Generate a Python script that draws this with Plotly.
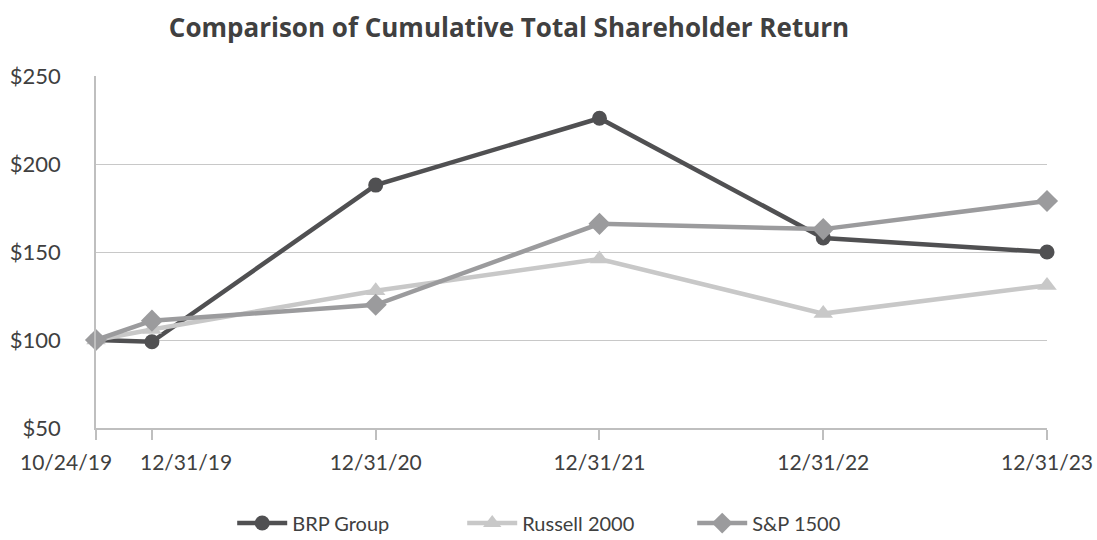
import plotly.graph_objects as go

# x positions follow the reference's spacing (years from first date, first interval drawn as a quarter)
x_pos = [0, 0.25, 1.25, 2.25, 3.25, 4.25]
tick_labels = ["10/24/19", "12/31/19", "12/31/20", "12/31/21", "12/31/22", "12/31/23"]
brp = [100, 99, 188, 226, 158, 150]
russell = [100, 106, 128, 146, 115, 131]
sp1500 = [100, 111, 120, 166, 163, 179]
y_ticks = [50, 100, 150, 200, 250]
y_labels = ["$50", "$100", "$150", "$200", "$250"]

FONT = "Lato"
TXT = "#404040"
series = [
    ("BRP Group", brp, "#505052", "circle", 15),
    ("Russell 2000", russell, "#c8c8c8", "triangle-up", 17),
    ("S&P 1500", sp1500, "#9b9b9d", "diamond", 17),
]

fig = go.Figure()
for name, vals, color, sym, size in series:
    fig.add_trace(go.Scatter(
        x=x_pos, y=vals, name=name, mode="lines+markers",
        line=dict(color=color, width=4.5),
        marker=dict(symbol=sym, size=size, color=color),
        cliponaxis=False,
    ))

# first two x labels are offset sideways (as in the reference) so they do not collide
shown_ticktext = ["", ""] + tick_labels[2:]
for i, shift in enumerate([-30, 34]):
    fig.add_annotation(x=x_pos[i], y=0, xref="x", yref="paper", text=tick_labels[i],
                       showarrow=False, xanchor="center", yanchor="top", xshift=shift, yshift=-19,
                       font=dict(family=FONT, size=21, color=TXT))

fig.update_layout(
    width=1097, height=540,
    paper_bgcolor="white", plot_bgcolor="white",
    margin=dict(l=96, r=50, t=76, b=112, autoexpand=False),
    title=dict(text="<b>Comparison of Cumulative Total Shareholder Return</b>",
               x=509 / 1097, xanchor="center", y=1 - 19 / 540, yanchor="top",
               font=dict(family="Open Sans", size=26, color=TXT)),
    font=dict(family=FONT, size=21, color=TXT),
    showlegend=True,
    legend=dict(orientation="h", x=0.506, xanchor="center", y=-0.27, yanchor="middle",
                font=dict(family=FONT, size=20, color=TXT),
                entrywidth=165, entrywidthmode="pixels", itemwidth=50),
)
fig.update_xaxes(
    range=[x_pos[0], x_pos[-1]], automargin=False,
    tickvals=x_pos, ticktext=shown_ticktext, tickangle=0,
    showgrid=False, showline=True, linecolor="#bfbfbf", linewidth=1.5,
    ticks="outside", ticklen=10, tickcolor="#bfbfbf", tickwidth=1.5,
    ticklabelstandoff=5,
    tickfont=dict(family=FONT, size=21, color=TXT), zeroline=False,
)
fig.update_yaxes(
    range=[50, 250], tickvals=y_ticks, ticktext=y_labels, automargin=False,
    showgrid=True, gridcolor="#c8c8c8", gridwidth=1.2,
    showline=True, linecolor="#bfbfbf", linewidth=1.5, zeroline=False,
    ticks="", ticklabelstandoff=29,
    tickfont=dict(family=FONT, size=22, color=TXT),
)
fig.write_html("out.html", config={"displayModeBar": False},
               post_script="document.body.style.margin='0';")
